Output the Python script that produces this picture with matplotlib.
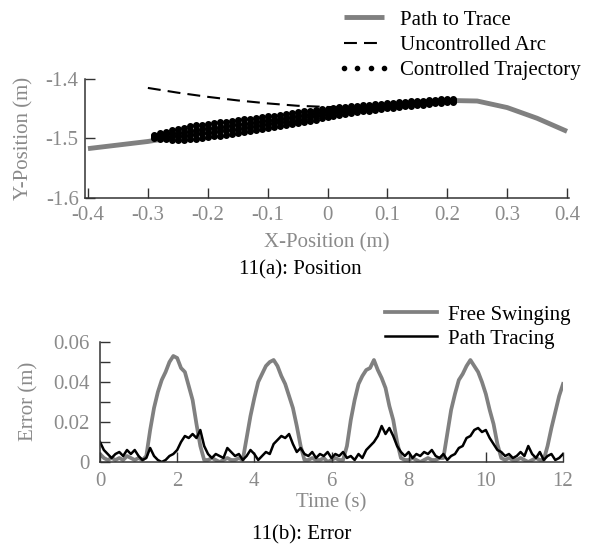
import matplotlib
matplotlib.use("Agg")
import matplotlib.pyplot as plt
from matplotlib.lines import Line2D
import numpy as np

plt.rcParams['font.family'] = ['Liberation Serif', 'DejaVu Serif']

# ---------------- data: 11(a) position ----------------
path_x = [-0.4, -0.35, -0.3, -0.25, -0.2, -0.15, -0.1, -0.05, 0.0, 0.05, 0.1, 0.15, 0.2, 0.25, 0.3, 0.35, 0.4]
path_y = [-1.517, -1.511, -1.505, -1.497, -1.489, -1.480, -1.472, -1.464, -1.456, -1.450, -1.444,
          -1.439, -1.436, -1.437, -1.448, -1.466, -1.488]

arc_x = [-0.3, -0.25, -0.2, -0.15, -0.1, -0.05, 0.0, 0.04]
arc_y = [-1.415, -1.423, -1.430, -1.436, -1.441, -1.445, -1.447, -1.448]

traj_x = [-0.29, -0.28, -0.27, -0.26, -0.25, -0.24, -0.23, -0.22, -0.21, -0.20,
          -0.19, -0.18, -0.17, -0.16, -0.15, -0.14, -0.13, -0.12, -0.11, -0.10,
          -0.09, -0.08, -0.07, -0.06, -0.05, -0.04, -0.03, -0.02, -0.01, 0.00,
          0.01, 0.02, 0.03, 0.04, 0.05, 0.06, 0.07, 0.08, 0.09, 0.10,
          0.11, 0.12, 0.13, 0.14, 0.15, 0.16, 0.17, 0.18, 0.19, 0.20, 0.21]
traj_row1 = [-1.4935, -1.4906, -1.4887, -1.4859, -1.4840, -1.4817, -1.4793, -1.4772, -1.4768, -1.4755,
             -1.4743, -1.4730, -1.4717, -1.4704, -1.4691, -1.4678, -1.4669, -1.4654, -1.4645, -1.4630,
             -1.4616, -1.4602, -1.4587, -1.4573, -1.4558, -1.4545, -1.4533, -1.4521, -1.4509, -1.4497,
             -1.4484, -1.4477, -1.4469, -1.4461, -1.4454, -1.4445, -1.4437, -1.4428, -1.4420, -1.4410,
             -1.4402, -1.4394, -1.4386, -1.4378, -1.4370, -1.4362, -1.4354, -1.4346, -1.4338, -1.4330, -1.4330]
traj_row2 = [-1.4955, -1.4939, -1.4927, -1.4912, -1.4900, -1.4884, -1.4866, -1.4851, -1.4841, -1.4828,
             -1.4816, -1.4803, -1.4790, -1.4777, -1.4764, -1.4751, -1.4739, -1.4724, -1.4712, -1.4697,
             -1.4681, -1.4667, -1.4651, -1.4636, -1.4621, -1.4605, -1.4590, -1.4574, -1.4559, -1.4544,
             -1.4527, -1.4517, -1.4508, -1.4498, -1.4489, -1.4478, -1.4468, -1.4458, -1.4448, -1.4437,
             -1.4428, -1.4419, -1.4411, -1.4402, -1.4393, -1.4385, -1.4376, -1.4367, -1.4359, -1.4350, -1.4350]
traj_row3 = [-1.4975, -1.4973, -1.4967, -1.4966, -1.4960, -1.4950, -1.4940, -1.4929, -1.4915, -1.4902,
             -1.4890, -1.4877, -1.4864, -1.4851, -1.4838, -1.4825, -1.4809, -1.4794, -1.4778, -1.4763,
             -1.4747, -1.4731, -1.4715, -1.4700, -1.4683, -1.4665, -1.4646, -1.4628, -1.4609, -1.4590,
             -1.4571, -1.4557, -1.4546, -1.4534, -1.4523, -1.4512, -1.4500, -1.4488, -1.4476, -1.4463,
             -1.4454, -1.4445, -1.4435, -1.4426, -1.4417, -1.4407, -1.4398, -1.4389, -1.4379, -1.4370, -1.4370]
traj_row4 = [-1.4995, -1.5006, -1.5007, -1.5019, -1.5020, -1.5017, -1.5013, -1.5008, -1.4988, -1.4975,
             -1.4963, -1.4950, -1.4937, -1.4924, -1.4911, -1.4898, -1.4879, -1.4864, -1.4845, -1.4830,
             -1.4812, -1.4796, -1.4779, -1.4763, -1.4746, -1.4725, -1.4703, -1.4681, -1.4659, -1.4637,
             -1.4614, -1.4597, -1.4585, -1.4571, -1.4558, -1.4545, -1.4531, -1.4518, -1.4504, -1.4490,
             -1.4480, -1.4470, -1.4460, -1.4450, -1.4440, -1.4430, -1.4420, -1.4410, -1.4400, -1.4390, -1.4390]

# ---------------- data: 11(b) error ----------------
time_s = np.round(np.arange(0, 121) * 0.1, 1)
free_swing = [0.004, 0.002, 0.001, 0.002, 0.001, 0.002, 0.001, 0.003, 0.002, 0.001, 0.002, 0.001,
              0.003, 0.016, 0.027, 0.035, 0.041, 0.045, 0.050, 0.053, 0.052, 0.047, 0.045, 0.038, 0.031, 0.019, 0.008, 0.001,
              0.001, 0.002, 0.001, 0.000, 0.001, 0.002, 0.001, 0.001, 0.002, 0.001,
              0.012, 0.023, 0.032, 0.040, 0.044, 0.048, 0.050, 0.051, 0.048, 0.043, 0.039, 0.033, 0.027, 0.018, 0.008, 0.001,
              0.001, 0.002, 0.001, 0.001, 0.002, 0.000, 0.001, 0.002, 0.001, 0.001,
              0.008, 0.021, 0.031, 0.039, 0.043, 0.046, 0.047, 0.051, 0.046, 0.042, 0.037, 0.028, 0.021, 0.010, 0.002,
              0.001, 0.001, 0.002, 0.001, 0.000, 0.001, 0.002, 0.001, 0.001, 0.002,
              0.002, 0.014, 0.026, 0.034, 0.041, 0.044, 0.048, 0.051, 0.048, 0.045, 0.040, 0.034, 0.026, 0.019, 0.009, 0.002,
              0.001, 0.002, 0.001, 0.001, 0.002, 0.001, 0.000, 0.001, 0.002, 0.001, 0.001,
              0.008, 0.017, 0.025, 0.033, 0.039]
path_tracing = [0.010, 0.006, 0.004, 0.002, 0.004, 0.005, 0.003, 0.006, 0.004, 0.006,
                0.003, 0.001, 0.002, 0.007, 0.003, 0.001, 0.000, 0.001, 0.003, 0.004,
                0.006, 0.010, 0.013, 0.012, 0.014, 0.012, 0.016, 0.008, 0.004, 0.002,
                0.004, 0.003, 0.002, 0.007, 0.005, 0.003, 0.004, 0.001, 0.003, 0.006,
                0.004, 0.001, 0.003, 0.005, 0.004, 0.009, 0.011, 0.013, 0.012, 0.014,
                0.009, 0.005, 0.007, 0.004, 0.003, 0.005, 0.002, 0.004, 0.003, 0.005,
                0.002, 0.004, 0.003, 0.005, 0.002, 0.003, 0.001, 0.004, 0.002, 0.006,
                0.008, 0.010, 0.013, 0.018, 0.014, 0.017, 0.013, 0.008, 0.005, 0.003,
                0.005, 0.002, 0.004, 0.003, 0.005, 0.004, 0.006, 0.003, 0.002, 0.004,
                0.001, 0.003, 0.004, 0.007, 0.008, 0.012, 0.013, 0.016, 0.017, 0.015,
                0.016, 0.012, 0.009, 0.006, 0.005, 0.003, 0.004, 0.002, 0.003, 0.005,
                0.003, 0.008, 0.004, 0.002, 0.005, 0.001, 0.003, 0.004, 0.001, 0.002, 0.004]

xticks_a = [-0.4, -0.3, -0.2, -0.1, 0, 0.1, 0.2, 0.3, 0.4]
xticklabels_a = ['-0.4', '-0.3', '-0.2', '-0.1', '0', '0.1', '0.2', '0.3', '0.4']
yticks_a = [-1.6, -1.5, -1.4]
yticklabels_a = ['-1.6', '-1.5', '-1.4']
xticks_b = [0, 2, 4, 6, 8, 10, 12]
yticks_b = [0, 0.02, 0.04, 0.06]
yticklabels_b = ['0', '0.02', '0.04', '0.06']

# ---------------- style ----------------
W, H = 591, 547
GRAY = '#808080'
TXT_GRAY = '#8a8a8a'
SPINE = '#333333'
FS = 15

fig = plt.figure(figsize=(W / 100, H / 100), dpi=100)

def style_axes(ax, xpad, ypad):
    for s in ['top', 'right']:
        ax.spines[s].set_visible(False)
    for s in ['left', 'bottom']:
        ax.spines[s].set_color(SPINE)
        ax.spines[s].set_linewidth(1.1)
    ax.tick_params(which='both', direction='in', length=7, width=1.0, color=SPINE,
                   labelcolor=TXT_GRAY, labelsize=FS)
    ax.tick_params(axis='x', pad=xpad)
    ax.tick_params(axis='y', pad=ypad)

# ---- 11(a)
ax1 = fig.add_axes([85 / W, 1 - 198 / H, 484 / W, 119 / H])
style_axes(ax1, 5.5, 4.5)
ax1.plot(path_x, path_y, color=GRAY, lw=3.5, solid_capstyle='butt', zorder=1)
ax1.plot(arc_x, arc_y, color='black', lw=1.5, dashes=(6.2, 3.4), zorder=2)
for ys in (traj_row1, traj_row2, traj_row3, traj_row4):
    ax1.plot(traj_x, ys, linestyle='none', marker='o', ms=4.0, color='black', zorder=3)
ax1.set_xlim(-0.405, 0.4033)
ax1.set_ylim(-1.6, -1.4)
ax1.set_xticks(xticks_a)
ax1.set_xticklabels(xticklabels_a)
ax1.set_yticks(yticks_a)
ax1.set_yticklabels(yticklabels_a)

h1 = [Line2D([], [], color=GRAY, lw=3.5, solid_capstyle='butt'),
      Line2D([], [], color='black', lw=1.5, dashes=(6.2, 3.4)),
      Line2D([], [], color='black', linestyle='none', marker='o', ms=3)]
fig.legend(h1, ['Path to Trace', 'Uncontrolled Arc', 'Controlled Trajectory'],
           loc='upper left', bbox_to_anchor=(338 / W, 1 - 10 / H), frameon=False,
           borderpad=0, borderaxespad=0, handlelength=2.5, handletextpad=0.5,
           labelspacing=0.27, numpoints=4, fontsize=FS)

fig.text(24 / W, 1 - 138 / H, 'Y-Position (m)', rotation=90, ha='center', va='center',
         color=TXT_GRAY, fontsize=FS)
fig.text(327 / W, 1 - 243 / H, 'X-Position (m)', ha='center', va='center',
         color=TXT_GRAY, fontsize=FS)
fig.text(300 / W, 1 - 270 / H, '11(a): Position', ha='center', va='center',
         color='black', fontsize=FS)

# ---- 11(b)
ax2 = fig.add_axes([100 / W, 1 - 462 / H, 463 / W, 120 / H])
style_axes(ax2, 7.0, 7.5)
ax2.plot(time_s, free_swing, color=GRAY, lw=2.7, zorder=1)
ax2.plot(time_s, path_tracing, color='black', lw=1.8, zorder=2)
ax2.set_xlim(0, 12)
ax2.set_ylim(0, 0.06)
ax2.set_xticks(xticks_b)
ax2.set_xticklabels([str(v) for v in xticks_b])
ax2.set_yticks(yticks_b)
ax2.set_yticklabels(yticklabels_b)
ax2.set_yticks([0.01, 0.03, 0.05], minor=True)

h2 = [Line2D([], [], color=GRAY, lw=2.7), Line2D([], [], color='black', lw=1.8)]
fig.legend(h2, ['Free Swinging', 'Path Tracing'],
           loc='upper left', bbox_to_anchor=(385 / W, 1 - 305 / H), frameon=False,
           borderpad=0, borderaxespad=0, handlelength=2.5, handletextpad=0.5,
           labelspacing=0.22, fontsize=FS)

fig.text(29 / W, 1 - 401 / H, 'Error (m)', rotation=90, ha='center', va='center',
         color=TXT_GRAY, fontsize=FS)
fig.text(331 / W, 1 - 503 / H, 'Time (s)', ha='center', va='center',
         color=TXT_GRAY, fontsize=FS)
fig.text(302 / W, 1 - 535 / H, '11(b): Error', ha='center', va='center',
         color='black', fontsize=FS)

fig.savefig('out.png', dpi=100)
